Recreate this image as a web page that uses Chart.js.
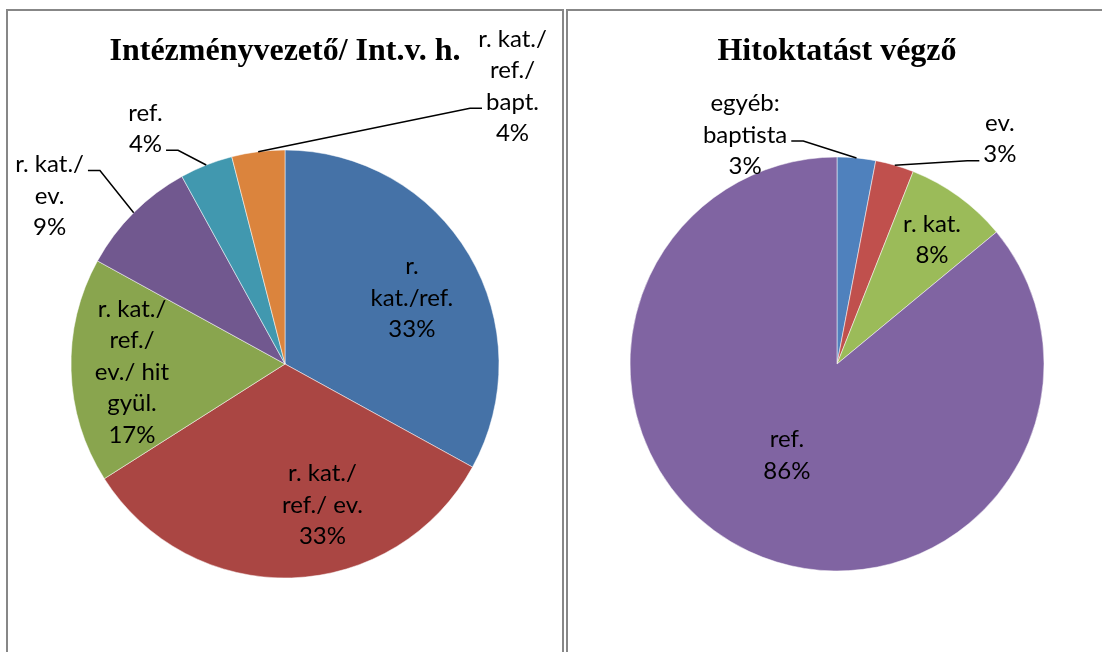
<!DOCTYPE html>
<html lang="hu">
<head>
<meta charset="UTF-8">
<title>Intézményvezető / Hitoktatást végző</title>
<script src="https://cdn.jsdelivr.net/npm/chart.js"></script>
<style>
    html, body { margin: 0; padding: 0; background: #fff; overflow: hidden; }
    .panel { position: absolute; top: 9px; border: 2px solid #878787; background: #fff; }
    #leftPanel { left: 6px; width: 554px; height: 660px; }
    #rightPanel { left: 566px; width: 540px; height: 660px; }
    canvas { display: block; }
</style>
</head>
<body>
<div class="panel" id="leftPanel"><canvas id="leftChart" width="554" height="660"></canvas></div>
<div class="panel" id="rightPanel"><canvas id="rightChart" width="540" height="660"></canvas></div>

<script>
// left chart: Intézményvezető/ Int.v. h.
const leftCategories = [
    ["r.", "kat./ref."],
    ["r. kat./", "ref./ ev."],
    ["r. kat./", "ref./", "ev./ hit", "gyül."],
    ["r. kat./", "ev."],
    ["ref."],
    ["r. kat./", "ref./", "bapt."]
];
const leftValues = [33, 33, 17, 9, 4, 4];
const leftColors = ["#4572A7", "#AA4643", "#89A54E", "#71588F", "#4198AF", "#DB843D"];

// right chart: Hitoktatást végző
const rightCategories = [
    ["egyéb:", "baptista"],
    ["ev."],
    ["r. kat."],
    ["ref."]
];
const rightValues = [3, 3, 8, 86];
const rightColors = ["#4F81BD", "#C0504D", "#9BBB59", "#8064A2"];

// label placement, in units of the pie radius from its centre
const leftLabelPos = [
    { dx: 0.593, dy: -0.308 },
    { dx: 0.175, dy: 0.659 },
    { dx: -0.715, dy: 0.037 },
    { dx: -1.1, dy: -0.785, leader: { side: "right", line: 0 } },
    { dx: -0.652, dy: -1.1, leader: { side: "right", line: 1 } },
    { dx: 1.063, dy: -1.297, leader: { side: "left", line: 2 } }
];
const rightLabelPos = [
    { dx: -0.444, dy: -1.106, leader: { side: "right", line: 1 } },
    { dx: 0.787, dy: -1.087, leader: { side: "left", line: 1 } },
    { dx: 0.459, dy: -0.599 },
    { dx: -0.242, dy: 0.442 }
];

// draws the Excel style data labels (category + percent) with leader lines
const pieLabels = {
    id: "pieLabels",
    afterDatasetsDraw(chart, args, opts) {
        const ctx = chart.ctx;
        const ds = chart.data.datasets[0];
        const total = ds.data.reduce((a, b) => a + b, 0);
        const meta = chart.getDatasetMeta(0);
        ctx.save();
        ctx.font = opts.font;
        ctx.fillStyle = "#000";
        ctx.strokeStyle = "#000";
        ctx.lineWidth = 1.5;
        ctx.textAlign = "center";
        ctx.textBaseline = "middle";
        meta.data.forEach((arc, i) => {
            const p = arc.getProps(["x", "y", "startAngle", "endAngle", "outerRadius"], true);
            const pos = opts.positions[i];
            const lines = [].concat(chart.data.labels[i], Math.round(ds.data[i] / total * 100) + "%");
            const cx = p.x + pos.dx * p.outerRadius;
            const cy = p.y + pos.dy * p.outerRadius;
            const lh = opts.lineHeight;
            const lineY = k => cy + (k - (lines.length - 1) / 2) * lh;
            lines.forEach((t, k) => ctx.fillText(t, cx, lineY(k)));
            if (pos.leader) {
                const k = pos.leader.line;
                const w = ctx.measureText(lines[k]).width;
                const dir = pos.leader.side === "right" ? 1 : -1;
                const ly = lineY(k) + 6;
                const x0 = cx + dir * (w / 2 + 4);
                const x1 = x0 + dir * 12;
                const mid = (p.startAngle + p.endAngle) / 2;
                ctx.beginPath();
                ctx.moveTo(x0, ly);
                ctx.lineTo(x1, ly);
                ctx.lineTo(p.x + Math.cos(mid) * p.outerRadius, p.y + Math.sin(mid) * p.outerRadius);
                ctx.stroke();
            }
        });
        ctx.restore();
    }
};

function makePie(id, title, labels, values, colors, radius, positions, padRight) {
    return new Chart(document.getElementById(id), {
        type: "pie",
        data: {
            labels: labels,
            datasets: [{
                data: values,
                backgroundColor: colors,
                borderColor: "rgba(255, 255, 255, 0.5)",
                borderWidth: 1,
                radius: radius
            }]
        },
        options: {
            responsive: false,
            animation: false,
            layout: { padding: { bottom: 14.4, right: padRight } },
            plugins: {
                legend: { display: false },
                tooltip: { enabled: false },
                title: {
                    display: true,
                    text: title,
                    color: "#000",
                    font: { family: "'Liberation Serif', 'Times New Roman', serif", size: 32, weight: "bold", lineHeight: 1.2 },
                    padding: { top: 22, bottom: 0 }
                },
                pieLabels: { positions: positions, font: "24px Lato, 'Noto Sans', sans-serif", lineHeight: 31.5 }
            }
        },
        plugins: [pieLabels]
    });
}

makePie("leftChart", "Intézményvezető/ Int.v. h.", leftCategories, leftValues, leftColors, 214, leftLabelPos, 0);
makePie("rightChart", "Hitoktatást végző", rightCategories, rightValues, rightColors, 207, rightLabelPos, 2);
</script>
</body>
</html>
